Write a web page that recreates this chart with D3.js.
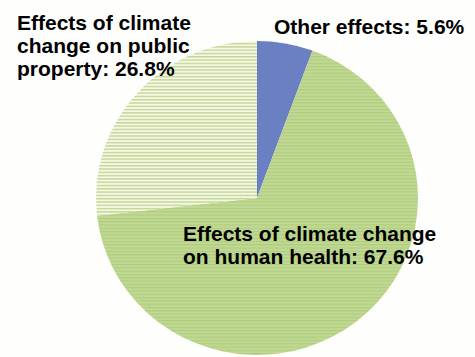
<!DOCTYPE html>
<html>
<head>
<meta charset="utf-8">
<script src="https://cdn.jsdelivr.net/npm/d3@7"></script>
<style>
  html, body { margin: 0; padding: 0; background: #fefefc; }
  svg { display: block; }
  text { font-family: "Liberation Sans", Arial, sans-serif; font-weight: bold; font-size: 21px; fill: #000; }
</style>
</head>
<body>
<svg id="chart" width="475" height="357"></svg>
<script>
const categories = ["Other effects", "Effects of climate change on human health", "Effects of climate change on public property"];
const values = [5.6, 67.6, 26.8];
const labelLines = [
  ["Other effects: 5.6%"],
  ["Effects of climate change", "on human health: 67.6%"],
  ["Effects of climate", "change on public", "property: 26.8%"]
];

const svg = d3.select("#chart");
const cx = 257, cy = 198, rx = 161, ry = 157;

const defs = svg.append("defs");
function stripes(id, base, line, period, lw) {
  const p = defs.append("pattern").attr("id", id).attr("patternUnits", "userSpaceOnUse")
    .attr("width", 8).attr("height", period);
  p.append("rect").attr("width", 8).attr("height", period).attr("fill", base);
  p.append("rect").attr("y", 0).attr("width", 8).attr("height", lw).attr("fill", line);
}
stripes("pBlue", "#6b7fc3", "#6b7fc3", 3, 1);
stripes("pGreen", "#c0d993", "#b1cc80", 3.3, 1.2);
stripes("pLight", "#f5f8e2", "#c4d59a", 3.3, 1.4);
const fills = ["url(#pBlue)", "url(#pGreen)", "url(#pLight)"];

const pie = d3.pie().sort(null).value(d => d)(values);
const arc = d3.arc().innerRadius(0).outerRadius(ry);

const g = svg.append("g").attr("transform", `translate(${cx},${cy}) scale(${rx / ry},1)`);
g.selectAll("path").data(pie).join("path")
  .attr("d", arc)
  .attr("fill", (d, i) => fills[i]);

const labelPos = [
  { x: 274, y: 34, lh: 23 },
  { x: 183, y: 241, lh: 23 },
  { x: 17, y: 30, lh: 23 }
];
labelLines.forEach((lines, i) => {
  const t = svg.append("text").attr("x", labelPos[i].x).attr("y", labelPos[i].y);
  lines.forEach((l, j) => {
    t.append("tspan").attr("x", labelPos[i].x).attr("dy", j === 0 ? 0 : labelPos[i].lh).text(l);
  });
});
</script>
</body>
</html>
